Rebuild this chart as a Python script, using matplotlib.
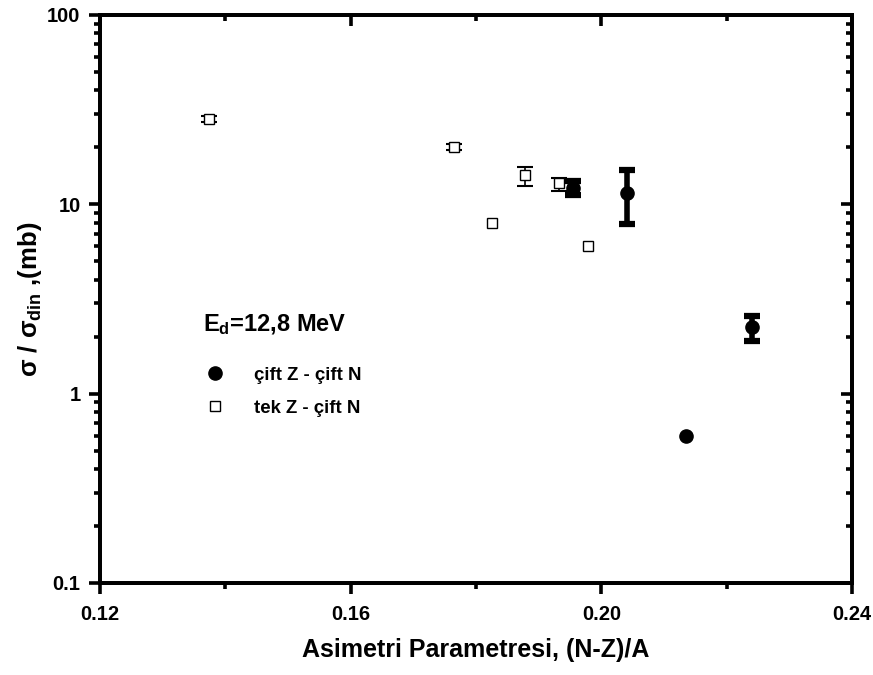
import matplotlib.pyplot as plt
from matplotlib.ticker import FixedLocator, LogLocator, NullFormatter, FixedFormatter
import numpy as np

plt.rcParams['font.family'] = ['Liberation Sans', 'DejaVu Sans']
plt.rcParams['font.weight'] = 'bold'
plt.rcParams['mathtext.fontset'] = 'custom'
plt.rcParams['mathtext.rm'] = 'Liberation Sans:bold'
plt.rcParams['mathtext.it'] = 'Liberation Sans:bold'
plt.rcParams['mathtext.bf'] = 'Liberation Sans:bold'

# cift Z - cift N (filled circles); 0 error = no bar drawn
even_x = [0.1955, 0.2041, 0.2135, 0.2240]
even_y = [12.2, 11.5, 0.60, 2.25]
even_lo = [1.0, 3.6, 0.0, 0.35]
even_hi = [1.0, 3.7, 0.0, 0.32]

# tek Z - cift N (open squares)
odd_x = [0.1374, 0.1765, 0.1826, 0.1878, 0.1932, 0.1979]
odd_y = [28.2, 20.1, 8.0, 14.3, 12.9, 6.02]
odd_lo = [1.0, 0.8, 0.0, 1.8, 1.1, 0.0]
odd_hi = [1.0, 0.8, 0.0, 1.5, 0.8, 0.0]

x_ticks = [0.12, 0.16, 0.20, 0.24]
x_minor = [0.14, 0.18, 0.22]
x_labels = ['0.12', '0.16', '0.20', '0.24']
y_ticks = [0.1, 1, 10, 100]
y_labels = ['0.1', '1', '10', '100']


def with_err(x, y, lo, hi):
    keep = [i for i in range(len(x)) if lo[i] > 0 or hi[i] > 0]
    return ([x[i] for i in keep], [y[i] for i in keep],
            [[lo[i] for i in keep], [hi[i] for i in keep]])


fig = plt.figure(figsize=(8.73, 6.75), dpi=100)
ax = fig.add_axes([0.1145, 0.1363, 0.8615, 0.8415])

ex, ey, eerr = with_err(odd_x, odd_y, odd_lo, odd_hi)
ax.errorbar(ex, ey, yerr=eerr, fmt='none', ecolor='black', elinewidth=1.2,
            capsize=6, capthick=1.5, zorder=2)
ax.plot(odd_x, odd_y, 's', mfc='white', mec='black', mew=1.0, ms=7.5, zorder=3)

ex, ey, eerr = with_err(even_x, even_y, even_lo, even_hi)
ax.errorbar(ex, ey, yerr=eerr, fmt='none', ecolor='black', elinewidth=4,
            capsize=6, capthick=4.5, zorder=4)
ax.plot(even_x, even_y, 'o', color='black', ms=9.5, zorder=5)

ax.set_yscale('log')
ax.set_xlim(0.12, 0.24)
ax.set_ylim(0.1, 100)

ax.xaxis.set_major_locator(FixedLocator(x_ticks))
ax.xaxis.set_major_formatter(FixedFormatter(x_labels))
ax.xaxis.set_minor_locator(FixedLocator(x_minor))
ax.yaxis.set_major_locator(FixedLocator(y_ticks))
ax.yaxis.set_major_formatter(FixedFormatter(y_labels))
ax.yaxis.set_minor_locator(LogLocator(base=10, subs=np.arange(2, 10)))
ax.yaxis.set_minor_formatter(NullFormatter())

for s in ax.spines.values():
    s.set_linewidth(2.6)
ax.tick_params(which='major', direction='out', length=8, width=2.6, labelsize=14.5, pad=6)
ax.tick_params(axis='x', which='major', pad=8)
ax.tick_params(which='minor', direction='out', length=4, width=2.6)

# right side: inward ticks only
axr = ax.twinx()
axr.set_yscale('log')
axr.set_ylim(0.1, 100)
axr.yaxis.set_major_locator(FixedLocator(y_ticks))
axr.yaxis.set_minor_locator(LogLocator(base=10, subs=np.arange(2, 10)))
axr.yaxis.set_minor_formatter(NullFormatter())
axr.tick_params(which='major', direction='in', length=8, width=2.6, labelright=False)
axr.tick_params(which='minor', direction='in', length=4, width=2.6)

# top side: inward ticks only
axt = ax.twiny()
axt.set_xlim(0.12, 0.24)
axt.xaxis.set_major_locator(FixedLocator(x_ticks))
axt.xaxis.set_minor_locator(FixedLocator(x_minor))
axt.tick_params(which='major', direction='in', length=8, width=2.6, labeltop=False)
axt.tick_params(which='minor', direction='in', length=4, width=2.6)
for a in (axr, axt):
    for s in a.spines.values():
        s.set_linewidth(2.6)

ax.set_xlabel('Asimetri Parametresi, (N-Z)/A', fontsize=18, fontweight='bold', labelpad=10)
ax.set_ylabel(r'σ / σ$_{\mathrm{din}}$ ,(mb)', fontsize=18.5, fontweight='bold', labelpad=2)

ax.text(0.137, 0.455, r'E$_{\mathrm{d}}$=12,8 MeV', transform=ax.transAxes,
        fontsize=17, fontweight='bold', va='center', ha='left')

h_even = ax.plot([], [], 'o', color='black', ms=9.5)[0]
h_odd = ax.plot([], [], 's', mfc='white', mec='black', mew=1.0, ms=7.5)[0]
ax.legend([h_even, h_odd], ['çift Z - çift N', 'tek Z - çift N'], loc='upper left',
          bbox_to_anchor=(0.098, 0.41), frameon=False, handlelength=2.6,
          handletextpad=0.8, labelspacing=0.85, prop={'size': 13.4, 'weight': 'bold'})

fig.savefig('out.png', dpi=100)
